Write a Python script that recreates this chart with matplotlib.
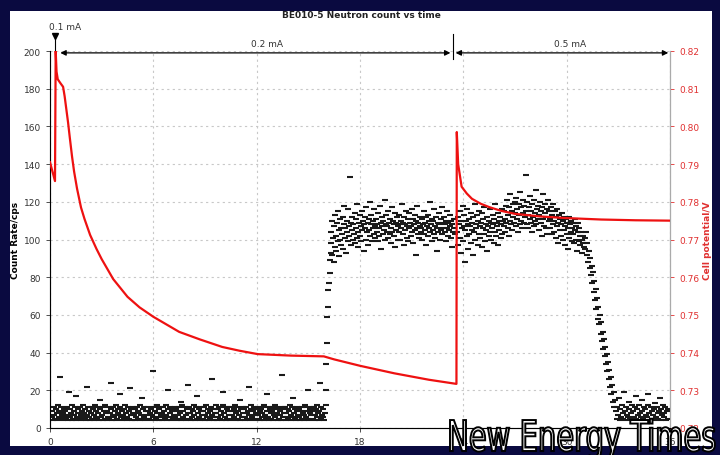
import numpy as np
import matplotlib
matplotlib.use("Agg")
from matplotlib import pyplot as plt
from matplotlib import patches
from matplotlib.textpath import TextPath
from matplotlib.font_manager import FontProperties
from matplotlib.transforms import Affine2D

# neutron count rate (cps), sampled at regular intervals inside each segment
base_counts = [
    6, 9, 4, 11, 7, 5, 10, 8, 4, 12, 6, 9, 27, 5, 11, 7, 4, 8, 10, 6,
    9, 5, 11, 4, 7, 19, 10, 6, 8, 4, 12, 5, 9, 7, 11, 4, 17, 6, 10, 8,
    5, 11, 7, 4, 9, 6, 12, 8, 5, 10, 4, 22, 7, 11, 6, 9, 4, 8, 11, 5,
    10, 4, 7, 12, 6, 9, 5, 11, 8, 4, 15, 10, 6, 7, 11, 4, 9, 5, 12, 8,
    4, 9, 6, 11, 5, 8, 24, 10, 4, 7, 11, 6, 9, 4, 12, 5, 8, 10, 7, 18,
    11, 6, 4, 9, 7, 10, 5, 12, 8, 4, 6, 11, 9, 5, 21, 7, 10, 4, 8, 11,
    7, 4, 10, 6, 11, 5, 9, 8, 4, 12, 7, 16, 5, 10, 6, 11, 4, 9, 7, 5,
    9, 11, 5, 8, 4, 10, 7, 30, 6, 11, 4, 9, 5, 12, 8, 6, 10, 4, 11, 7,
    4, 8, 11, 6, 9, 5, 12, 7, 4, 10, 20, 6, 11, 8, 4, 9, 5, 10, 7, 11,
    6, 10, 4, 9, 7, 11, 5, 8, 14, 4, 12, 6, 9, 5, 11, 7, 4, 10, 8, 23,
    11, 5, 8, 4, 10, 6, 9, 12, 7, 4, 11, 5, 17, 8, 6, 10, 4, 9, 11, 7,
    5, 9, 11, 7, 4, 12, 6, 10, 8, 4, 9, 5, 11, 7, 26, 6, 10, 4, 8, 12,
    8, 4, 10, 6, 11, 5, 9, 7, 4, 12, 19, 8, 6, 11, 4, 10, 5, 9, 7, 11,
    4, 11, 7, 9, 5, 10, 6, 12, 4, 8, 11, 5, 9, 7, 4, 15, 10, 6, 11, 8,
    10, 6, 4, 11, 8, 5, 9, 7, 22, 4, 10, 12, 6, 9, 5, 11, 7, 4, 8, 10,
    7, 11, 5, 9, 4, 10, 6, 8, 11, 4, 12, 7, 5, 18, 9, 6, 11, 4, 10, 8,
    5, 9, 11, 4, 7, 12, 6, 10, 8, 4, 11, 5, 9, 7, 4, 10, 28, 6, 11, 8,
    11, 4, 8, 6, 10, 5, 9, 12, 7, 4, 11, 16, 6, 8, 5, 10, 4, 9, 11, 7,
    6, 10, 4, 9, 11, 5, 8, 7, 4, 12, 6, 11, 9, 5, 20, 4, 10, 8, 7, 11,
    9, 5, 11, 7, 4, 10, 6, 12, 8, 4, 9, 24, 5, 11, 7, 6, 10, 4, 8, 12,
]
rise_counts = [20, 34, 45, 59, 64, 73, 77, 82, 89, 93]
plateau1_counts = [
    98, 104, 92, 110, 101, 88, 107, 96, 113, 102, 94, 109, 99, 115, 91, 105, 100, 111, 97, 106,
    103, 112, 95, 108, 118, 101, 106, 93, 110, 104, 99, 116, 107, 102, 133, 97, 109, 105, 112, 100,
    108, 103, 114, 98, 106, 111, 101, 119, 104, 96, 109, 113, 102, 107, 99, 115, 105, 110, 94, 108,
    106, 112, 100, 117, 104, 109, 97, 111, 105, 120, 102, 108, 113, 99, 106, 110, 103, 116, 101, 107,
    111, 104, 108, 99, 114, 106, 102, 118, 109, 95, 107, 112, 103, 110, 105, 121, 100, 108, 113, 104,
    107, 101, 115, 109, 103, 111, 98, 106, 117, 104, 110, 102, 108, 114, 96, 109, 105, 112, 100, 107,
    104, 113, 108, 100, 110, 106, 119, 103, 109, 97, 112, 105, 108, 115, 101, 107, 111, 99, 106, 114,
    109, 102, 107, 116, 104, 111, 98, 108, 113, 105, 92, 110, 106, 118, 103, 109, 101, 112, 107, 104,
    106, 111, 100, 108, 115, 103, 109, 105, 112, 97, 107, 113, 102, 110, 106, 120, 104, 108, 99, 111,
    105, 110, 103, 116, 107, 101, 112, 106, 94, 109, 104, 114, 108, 100, 111, 105, 117, 103, 109, 106,
    112, 104, 108, 99, 110, 106, 115, 102, 109, 105, 113, 107, 101, 110, 96, 108, 104, 111, 106, 103,
]
plateau2_counts = [
    104, 112, 97, 108, 115, 101, 93, 110, 106, 118, 99, 107, 113, 88, 105, 110, 102, 116, 95, 108,
    111, 103, 107, 98, 114, 105, 109, 92, 112, 104, 119, 100, 108, 106, 113, 97, 110, 103, 115, 107,
    101, 109, 114, 96, 106, 111, 103, 117, 99, 108, 105, 112, 94, 107, 110, 102, 116, 104, 109, 100,
    106, 113, 108, 98, 111, 104, 119, 102, 109, 107, 114, 97, 110, 105, 112, 101, 108, 116, 103, 110,
    107, 115, 111, 104, 118, 109, 121, 106, 113, 102, 117, 110, 124, 108, 115, 105, 119, 112, 109, 120,
    114, 107, 122, 111, 116, 104, 119, 113, 108, 125, 110, 117, 106, 121, 114, 109, 118, 112, 134, 115,
    108, 120, 113, 106, 117, 111, 123, 109, 115, 104, 119, 112, 107, 121, 114, 110, 126, 108, 116, 111,
    118, 105, 113, 120, 109, 115, 102, 117, 111, 124, 107, 114, 119, 106, 112, 116, 103, 121, 110, 115,
    111, 106, 117, 103, 113, 108, 119, 104, 110, 115, 101, 112, 107, 116, 98, 109, 113, 105, 111, 102,
    108, 114, 100, 110, 105, 112, 97, 107, 111, 103, 109, 95, 106, 112, 101, 108, 104, 110, 99, 106,
    103, 109, 98, 105, 111, 100, 107, 94, 104, 109, 99, 106, 102, 97, 104, 100, 93, 102, 98, 96,
]
drop_counts = [101, 95, 104, 92, 98, 88, 94, 85, 90, 81, 86, 77, 83, 72, 78, 68, 74, 63, 69, 58,
               64, 55, 60, 50, 56, 46, 51, 42, 47, 38, 43, 34, 39, 30, 35, 26, 31, 22, 27, 18,
               23, 14, 19, 11, 15]
tail_counts = [9, 5, 11, 7, 16, 4, 10, 6, 12, 8, 5, 19, 9, 4, 11, 7, 6, 10, 14, 5,
               8, 12, 4, 9, 6, 11, 17, 5, 10, 7, 4, 12, 8, 6, 15, 9, 5, 11, 4, 10,
               7, 6, 12, 18, 8, 4, 11, 5, 9, 7, 10, 4, 13, 6, 11, 8, 5, 9, 16, 4,
               10, 7, 12, 6, 8, 11, 4, 9, 5, 10]

# segment start/end times (h)
base_span = (0.1, 16.0)
rise_span = (16.0, 16.3)
plateau1_span = (16.3, 23.5)
plateau2_span = (23.65, 31.0)
drop_span = (31.05, 32.8)
tail_span = (32.85, 35.9)

# cell potential (V)
cell_t = [0.0, 0.29, 0.33, 0.38, 0.45, 0.6, 0.76, 0.85, 0.95, 1.05, 1.15, 1.28, 1.4, 1.57,
          1.8, 2.0, 2.33, 2.7, 3.0, 3.67, 4.5, 5.2, 6.0, 7.5, 8.7, 10.0, 11.0, 12.06, 14.0,
          15.9, 16.5, 18.0, 20.0, 22.0, 23.6,
          23.62, 23.7, 23.9, 24.2, 24.5, 25.0, 25.5, 26.2, 27.0, 28.5, 29.9, 32.0, 34.0, 36.0]
cell_v = [0.7905, 0.7855, 0.820, 0.8145, 0.8125, 0.8115, 0.8105, 0.808, 0.8045, 0.801,
          0.797, 0.792, 0.788, 0.7835, 0.7785, 0.7755, 0.7712, 0.7675, 0.7648, 0.7595,
          0.7548, 0.752, 0.7495, 0.7455, 0.7435, 0.7415, 0.7405, 0.7396, 0.7392,
          0.739, 0.7382, 0.7365, 0.7345, 0.7328, 0.7317,
          0.7985, 0.790, 0.784, 0.7822, 0.7808, 0.7795, 0.7786, 0.7776, 0.7768, 0.7761,
          0.7757, 0.7753, 0.7751, 0.775]

xticks = [0, 6, 12, 18, 24, 30, 36]

fig = plt.figure(figsize=(7.2, 4.56), dpi=100, facecolor="#0a0a40")
fig.patches.append(patches.Rectangle((10 / 720, 1 - 447 / 456), 702 / 720, 435 / 456,
                                     transform=fig.transFigure, facecolor="white",
                                     edgecolor="none", zorder=-5))

ax = fig.add_axes([50 / 720, 1 - 429 / 456, 620 / 720, 377 / 456])
ax.set_facecolor("white")

for counts, span in [(base_counts, base_span), (rise_counts, rise_span),
                     (plateau1_counts, plateau1_span), (plateau2_counts, plateau2_span),
                     (drop_counts, drop_span), (tail_counts, tail_span)]:
    t = np.linspace(span[0], span[1], len(counts))
    ax.plot(t, counts, linestyle="none", marker="_", markersize=4.2,
            markeredgewidth=1.5, color="#1a1a1a", zorder=3)

ax.set_xlim(0, 36)
ax.set_ylim(0, 200)
ax.set_xticks(xticks)
ax.set_yticks(range(0, 201, 20))
ax.grid(True, linestyle=(0, (2, 3)), color="#c8c8c8", linewidth=0.8)
ax.tick_params(labelsize=6.5, colors="#333333", length=3, width=0.6)
for s in ["left", "bottom", "right"]:
    ax.spines[s].set_color("#888888")
ax.spines["top"].set_visible(False)
ax.set_ylabel("Count Rate/cps", fontsize=6.5, fontweight="bold")
ax.yaxis.set_label_coords(-0.048, 0.5)

ax2 = ax.twinx()
ax2.plot(cell_t, cell_v, color="#ee1111", linewidth=1.6, zorder=4)
ax2.set_ylim(0.72, 0.82)
ax2.set_yticks(np.arange(0.72, 0.8201, 0.01))
ax2.set_yticklabels(["%.2f" % v for v in np.arange(0.72, 0.8201, 0.01)])
ax2.tick_params(labelsize=6.5, colors="#e03030", length=3, width=0.6)
ax2.spines["top"].set_visible(False)
ax2.spines["right"].set_color("#aaaaaa")
ax2.set_ylabel("Cell potential/V", fontsize=6.5, fontweight="bold", color="#e03030")
ax2.yaxis.set_label_coords(1.054, 0.5)

# current annotations
arr = dict(arrowstyle="<|-|>", color="black", lw=0.9, mutation_scale=8, shrinkA=0, shrinkB=0)
ax.annotate("", xy=(0.6, 199), xytext=(23.25, 199), arrowprops=arr, annotation_clip=False)
ax.annotate("", xy=(23.55, 199), xytext=(35.9, 199), arrowprops=arr, annotation_clip=False)
ax.plot([0.3, 0.3], [200, 208], color="black", lw=0.8, clip_on=False)
ax.plot([0.3], [208], marker="v", color="black", markersize=5, clip_on=False)
ax.plot([23.4, 23.4], [196, 209], color="black", lw=0.8, clip_on=False)
ax.text(0.9, 213, "0.1 mA", fontsize=6.5, ha="center", va="center", color="#333333")
ax.text(12.6, 204, "0.2 mA", fontsize=6.5, ha="center", va="center", color="#333333")
ax.text(30.2, 204, "0.5 mA", fontsize=6.5, ha="center", va="center", color="#333333")

fig.text(361 / 720, 1 - 16 / 456, "BE010-5 Neutron count vs time", fontsize=6.5,
         fontweight="bold", ha="center", va="center", color="#222222")

# watermark, squeezed horizontally like the original
wm_path = TextPath((0, 0), "New Energy Times", size=1, prop=FontProperties(family="DejaVu Sans"))
ext = wm_path.get_extents()
sx = 265 / ext.width
sy = 31 / 0.73
wm_tr = Affine2D().scale(sx, sy).translate(450 - ext.x0 * sx, 4)
fig.patches.append(patches.PathPatch(wm_path, transform=wm_tr, facecolor="white",
                                     edgecolor="black", linewidth=1.4, zorder=10))

fig.savefig("out.png", dpi=100, facecolor=fig.get_facecolor())
